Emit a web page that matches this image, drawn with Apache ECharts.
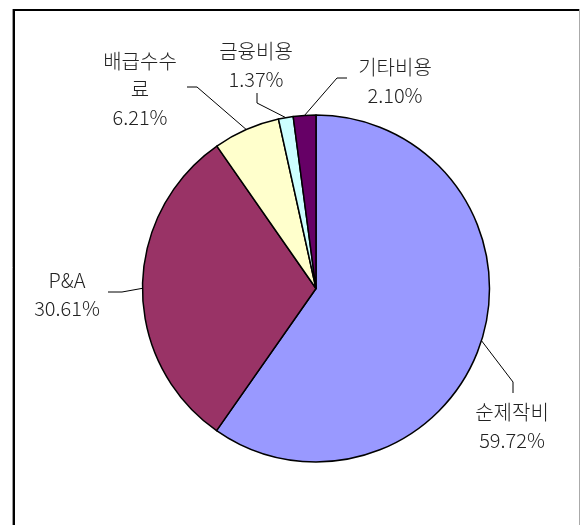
<!DOCTYPE html>
<html><head><meta charset="utf-8">
<script src="https://cdn.jsdelivr.net/npm/echarts@6/dist/echarts.min.js"></script>
<style>html,body{margin:0;padding:0;background:#fff}#c{width:581px;height:525px}</style>
</head><body><div id="c"></div>
<script>
const categories = ['순제작비', 'P&A', '배급수수료', '금융비용', '기타비용'];
const values = [59.72, 30.61, 6.21, 1.37, 2.10];
const colors = ['#9999FF', '#993366', '#FFFFCC', '#CCFFFF', '#660066'];

// label placement (text block centre) and leader bend/end points
const labelSpots = [
  { cx: 512, cy: 426, line: [[513, 382], [513, 393]] },
  { cx: 67, cy: 294, line: [[122, 292], [108, 292]] },
  { cx: 140, cy: 89, line: [[197, 87], [187, 87]] },
  { cx: 256, cy: 65, line: [[257, 103], [257, 93]] },
  { cx: 395, cy: 81, line: [[337, 78], [347, 78]] }
];

const chart = echarts.init(document.getElementById('c'), null, { renderer: 'canvas' });
chart.setOption({
  backgroundColor: '#fff',
  animation: false,
  graphic: [
    { type: 'line', shape: { x1: 12.5, y1: 9, x2: 12.5, y2: 530 }, style: { stroke: '#999', lineWidth: 1 } },
    { type: 'line', shape: { x1: 14, y1: 9.5, x2: 14, y2: 530 }, style: { stroke: '#000', lineWidth: 2 } },
    { type: 'line', shape: { x1: 13, y1: 10, x2: 579, y2: 10 }, style: { stroke: '#000', lineWidth: 2 } },
    { type: 'line', shape: { x1: 579.5, y1: 9, x2: 579.5, y2: 530 }, style: { stroke: '#aaa', lineWidth: 1 } }
  ],
  series: [{
    type: 'pie',
    center: [316, 288.5],
    radius: 173.5,
    startAngle: 90,
    clockwise: true,
    avoidLabelOverlap: false,
    silent: true,
    emphasis: { disabled: true },
    itemStyle: { borderColor: '#000', borderWidth: 1.5 },
    label: {
      show: true,
      position: 'outside',
      color: '#222',
      fontFamily: '"Noto Sans CJK KR", sans-serif',
      fontWeight: 300,
      fontSize: 20,
      lineHeight: 28,
      formatter: function (p) {
        const n = p.name.length > 4 ? p.name.slice(0, 4) + '\n' + p.name.slice(4) : p.name;
        return n + '\n' + p.value.toFixed(2) + '%';
      }
    },
    labelLine: { show: true, length: 20, length2: 10, lineStyle: { color: '#000', width: 1 } },
    labelLayout: function (params) {
      const s = labelSpots[params.dataIndex];
      const p0 = params.labelLinePoints ? params.labelLinePoints[0] : s.line[0];
      return {
        x: s.cx,
        y: s.cy,
        align: 'center',
        verticalAlign: 'middle',
        labelLinePoints: [p0, s.line[0], s.line[1]]
      };
    },
    data: categories.map((c, i) => ({ name: c, value: values[i], itemStyle: { color: colors[i] } }))
  }]
});
</script>
</body></html>
